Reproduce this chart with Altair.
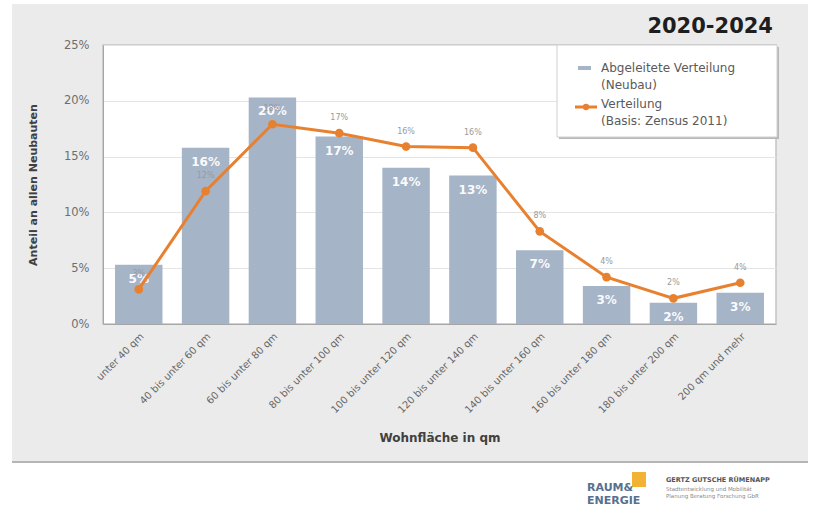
import altair as alt
import pandas as pd

categories = ["unter 40 qm", "40 bis unter 60 qm", "60 bis unter 80 qm", "80 bis unter 100 qm",
              "100 bis unter 120 qm", "120 bis unter 140 qm", "140 bis unter 160 qm",
              "160 bis unter 180 qm", "180 bis unter 200 qm", "200 qm und mehr"]
neubau = [5.3, 15.8, 20.3, 16.8, 14.0, 13.3, 6.6, 3.4, 1.9, 2.8]
zensus = [3.1, 11.9, 17.9, 17.1, 15.9, 15.8, 8.3, 4.2, 2.3, 3.7]
y_ticks = [0, 5, 10, 15, 20, 25]
legend_bar_label = "Abgeleitete Verteilung\n(Neubau)"
legend_line_label = "Verteilung\n(Basis: Zensus 2011)"
chart_title = "2020-2024"

W, H = 673, 279
FONT = "DejaVu Sans"
BAR = "#a6b4c8"
ORANGE = "#e8812f"

df = pd.DataFrame({"Kategorie": categories, "Neubau": neubau, "Zensus": zensus})

x_enc = alt.X("Kategorie:N", sort=categories,
              scale=alt.Scale(paddingInner=0.29, paddingOuter=0.18),
              axis=alt.Axis(title="Wohnfläche in qm", labelAngle=-45, labelFontSize=10,
                            labelColor="#666666", labelPadding=7, ticks=False,
                            domainColor="#a6a6a6", titleFontSize=12, titleFontWeight="bold",
                            titleColor="#404040", titlePadding=18, labelFont=FONT, titleFont=FONT))
y_axis = alt.Axis(title="Anteil an allen Neubauten", values=y_ticks, labelExpr="datum.value + '%'",
                  grid=True, gridColor="#e4e4e4", ticks=False, labelPadding=14, labelFontSize=11.5,
                  labelColor="#6e6e6e", domainColor="#a6a6a6", titleFontSize=11,
                  titleFontWeight="bold", titleColor="#404040", titlePadding=25,
                  labelFont=FONT, titleFont=FONT)
y_scale = alt.Scale(domain=[0, 25], nice=False)

base = alt.Chart(df)

bars = base.mark_bar(color=BAR).encode(
    x=x_enc, y=alt.Y("Neubau:Q", scale=y_scale, axis=y_axis))

bar_labels = base.transform_calculate(lab="format(datum.Neubau, '.0f') + '%'").mark_text(
    color="white", fontWeight="bold", fontSize=12, baseline="middle", dy=14, font=FONT, opacity=0.95
).encode(x=x_enc, y=alt.Y("Neubau:Q", scale=y_scale, axis=y_axis), text="lab:N")

line = base.mark_line(color=ORANGE, strokeWidth=3).encode(
    x=x_enc, y=alt.Y("Zensus:Q", scale=y_scale, axis=y_axis))
points = base.mark_circle(color=ORANGE, size=75, opacity=1).encode(
    x=x_enc, y=alt.Y("Zensus:Q", scale=y_scale, axis=y_axis))
line_labels = base.transform_calculate(lab="format(datum.Zensus, '.0f') + '%'").mark_text(
    color="#9a9a9a", fontSize=8, baseline="middle", dy=-15, font=FONT
).encode(x=x_enc, y=alt.Y("Zensus:Q", scale=y_scale, axis=y_axis), text="lab:N")

one = pd.DataFrame({"k": [0]})
deco = alt.Chart(one)

# white strips outside the gray panel
white_bottom = deco.mark_rect(color="white").encode(
    x=alt.value(-103), x2=alt.value(710), y=alt.value(417), y2=alt.value(462))
white_left = deco.mark_rect(color="white").encode(
    x=alt.value(-103), x2=alt.value(-91), y=alt.value(-45), y2=alt.value(417))
white_right = deco.mark_rect(color="white").encode(
    x=alt.value(705), x2=alt.value(710), y=alt.value(-45), y2=alt.value(417))
white_top = deco.mark_rect(color="white").encode(
    x=alt.value(-103), x2=alt.value(710), y=alt.value(-45), y2=alt.value(-41))
sep = deco.mark_rule(color="#b5b5b5", strokeWidth=2).encode(
    x=alt.value(-91), x2=alt.value(705), y=alt.value(417))

# title
title = alt.Chart(pd.DataFrame({"t": [chart_title]})).mark_text(
    fontSize=21, fontWeight="bold", color="#1e1e1e", align="right", baseline="middle", font=FONT
).encode(x=alt.value(670), y=alt.value(-18), text="t:N")

# legend box
leg_shadow = deco.mark_rect(color="#b8b8b8").encode(
    x=alt.value(456), x2=alt.value(676), y=alt.value(2), y2=alt.value(94))
leg_box = deco.mark_rect(fill="white", stroke="#d0d0d0").encode(
    x=alt.value(454), x2=alt.value(674), y=alt.value(0), y2=alt.value(92))
leg_bar_sym = deco.mark_rect(color=BAR).encode(
    x=alt.value(475), x2=alt.value(488), y=alt.value(21), y2=alt.value(25))
leg_line_sym = deco.mark_rule(color=ORANGE, strokeWidth=3).encode(
    x=alt.value(472), x2=alt.value(494), y=alt.value(62))
leg_pt_sym = deco.mark_circle(color=ORANGE, size=40, opacity=1).encode(
    x=alt.value(483), y=alt.value(62))
leg_txt1 = alt.Chart(pd.DataFrame({"t": [legend_bar_label]})).mark_text(
    lineBreak="\n", align="left", baseline="alphabetic", fontSize=12, lineHeight=17,
    color="#5a5a5a", font=FONT).encode(x=alt.value(498), y=alt.value(27), text="t:N")
leg_txt2 = alt.Chart(pd.DataFrame({"t": [legend_line_label]})).mark_text(
    lineBreak="\n", align="left", baseline="alphabetic", fontSize=12, lineHeight=17,
    color="#5a5a5a", font=FONT).encode(x=alt.value(498), y=alt.value(63), text="t:N")

# footer logo texts
logo_sq = deco.mark_rect(color="#f2b233").encode(
    x=alt.value(529), x2=alt.value(543), y=alt.value(427), y2=alt.value(442))
logo_r = alt.Chart(pd.DataFrame({"t": ["RAUM&"]})).mark_text(
    fontSize=11, fontWeight="bold", color="#56708f", align="left", baseline="middle", font=FONT
).encode(x=alt.value(484), y=alt.value(443), text="t:N")
logo_e = alt.Chart(pd.DataFrame({"t": ["ENERGIE"]})).mark_text(
    fontSize=11, fontWeight="bold", color="#56708f", align="left", baseline="middle", font=FONT
).encode(x=alt.value(484), y=alt.value(456), text="t:N")
logo_g = alt.Chart(pd.DataFrame({"t": ["GERTZ GUTSCHE RÜMENAPP"]})).mark_text(
    fontSize=6.5, fontWeight="bold", color="#555555", align="left", baseline="middle", font=FONT
).encode(x=alt.value(563), y=alt.value(435), text="t:N")
logo_s1 = alt.Chart(pd.DataFrame({"t": ["Stadtentwicklung und Mobilität"]})).mark_text(
    fontSize=5.5, color="#8a8a8a", align="left", baseline="middle", font=FONT
).encode(x=alt.value(563), y=alt.value(444), text="t:N")
logo_s2 = alt.Chart(pd.DataFrame({"t": ["Planung Beratung Forschung GbR"]})).mark_text(
    fontSize=5.5, color="#8a8a8a", align="left", baseline="middle", font=FONT
).encode(x=alt.value(563), y=alt.value(451), text="t:N")

chart = alt.layer(
    bars, bar_labels, line, points, line_labels,
    white_bottom, white_left, white_right, white_top, sep, title,
    leg_shadow, leg_box, leg_bar_sym, leg_line_sym, leg_pt_sym, leg_txt1, leg_txt2,
    logo_sq, logo_r, logo_e, logo_g, logo_s1, logo_s2
).properties(
    width=W, height=H,
    padding={"left": 103, "top": 45, "right": 37, "bottom": 183},
    autosize=alt.AutoSizeParams(type="none"),
).configure(background="#ebebeb", font=FONT).configure_view(
    fill="white", stroke="#c4c4c4", strokeWidth=1.5)

chart.save("out.html", embed_options={"renderer": "svg", "actions": False})
